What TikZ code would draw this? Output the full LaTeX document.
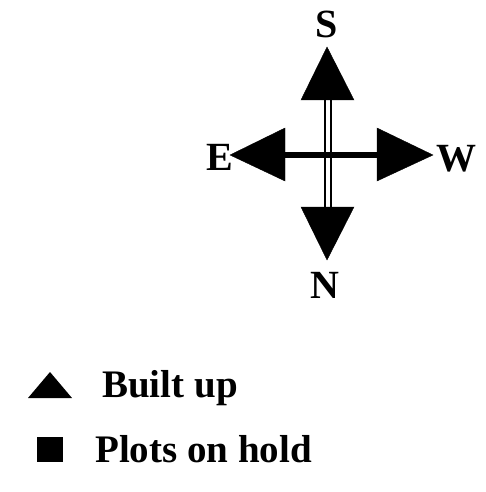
\documentclass[tikz,border=0pt]{standalone}
\usepackage{fontspec}
\setmainfont{Liberation Serif}
\tikzset{
  dirlabel/.style={font=\fontsize{40}{44}\selectfont\bfseries, inner sep=0pt},
  legendtext/.style={font=\fontsize{39}{43}\selectfont\bfseries, inner sep=0pt, anchor=base west},
  pointer/.style={fill=black, draw=black, line join=miter}
}
\begin{document}
\begin{tikzpicture}[x=1pt,y=-1pt]
\useasboundingbox (0,0) rectangle (486,492);

% Centre and arrow tips
\coordinate (centre) at (328,155);
\coordinate (tipS) at (327,47);
\coordinate (tipN) at (327,260);
\coordinate (tipE) at (230,155);
\coordinate (tipW) at (433,155);
\coordinate (baseS) at (328,100);
\coordinate (baseN) at (328,207);
\coordinate (baseE) at (285,155);
\coordinate (baseW) at (377,155);

% Shafts
\draw[line width=2.6pt, double=white, double distance=3.4pt] (baseS) -- (baseN);
\draw[line width=6pt] (baseE) -- (baseW);

% Heads
\fill[pointer] (tipS) -- ++(-26,53) -- ++(53,0) -- cycle;
\fill[pointer] (tipN) -- ++(-26,-53) -- ++(53,0) -- cycle;
\fill[pointer] (tipE) -- ++(55,-27) -- ++(0,53) -- cycle;
\fill[pointer] (tipW) -- ++(-56,-27) -- ++(0,53) -- cycle;

% Labels
\node[dirlabel] (labS) at (327,24) {S};
\node[dirlabel] (labN) at (325,285) {N};
\node[dirlabel] (labE) at (220,157) {E};
\node[dirlabel] (labW) at (456,159) {W};

% Legend
\fill (28,398) -- (72,398) -- (50,372) -- cycle;
\fill (37,437) rectangle (63,462);
\node[legendtext] (built) at (102,397) {Built up};
\node[legendtext] (hold) at (95,462) {Plots on hold};
\end{tikzpicture}
\end{document}
